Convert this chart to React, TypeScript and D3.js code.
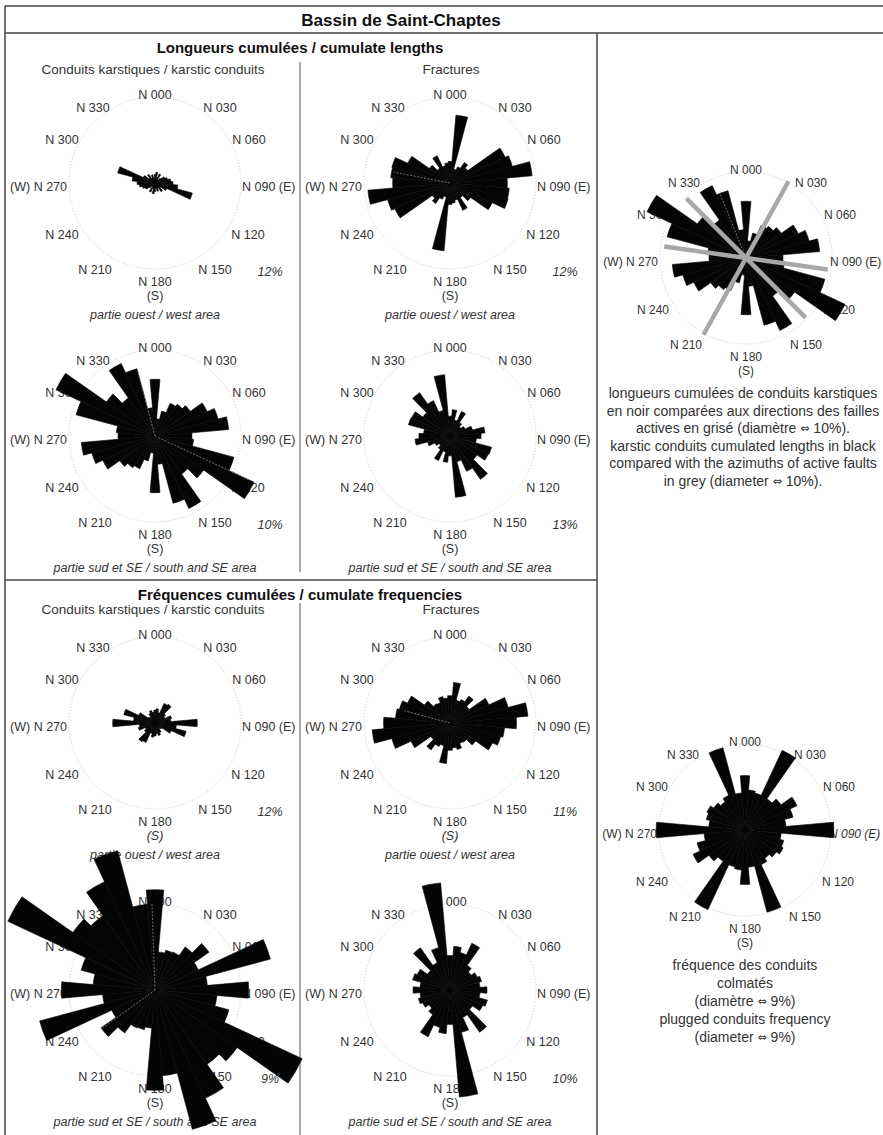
import React from 'react';
import * as d3 from 'd3';

// Bin centres (degrees from north), each bin 10° wide, mirrored at +180°
const binCenters = [0, 10, 20, 30, 40, 50, 60, 70, 80, 90, 100, 110, 120, 130, 140, 150, 160, 170];

// Cumulated lengths (%)
const lenConduitsWest = [1.2, 1.5, 0.8, 1.4, 0.6, 1.0, 1.5, 1.8, 2.2, 2.5, 3.2, 5.4, 1.8, 1.0, 1.5, 0.8, 1.2, 0.7];
const lenFracturesWest = [3.0, 9.5, 2.0, 2.5, 3.5, 3.0, 8.5, 9.0, 11.5, 8.0, 8.3, 8.4, 6.5, 3.5, 2.5, 4.2, 2.5, 2.8];
const lenConduitsSouth = [6.6, 2.0, 3.0, 4.2, 4.5, 5.0, 6.7, 7.6, 8.6, 4.3, 4.5, 9.5, 12.7, 6.9, 5.4, 9.3, 8.1, 3.3];
const lenFracturesSouth = [3.0, 4.0, 2.5, 4.1, 2.5, 2.0, 2.5, 3.5, 5.3, 4.7, 4.0, 6.5, 6.4, 5.0, 8.0, 5.9, 4.0, 9.3];

// Cumulated frequencies (%)
const freqConduitsWest = [1.8, 2.0, 1.5, 3.0, 3.2, 1.8, 1.5, 2.4, 2.2, 5.9, 3.0, 4.5, 2.5, 1.2, 1.0, 1.5, 1.8, 1.5];
const freqFracturesWest = [3.5, 5.2, 3.0, 3.3, 4.2, 3.0, 5.5, 7.7, 10.0, 8.5, 7.0, 6.7, 6.0, 4.0, 3.0, 2.9, 3.5, 3.2];
const freqConduitsSouth = [10.5, 4.0, 4.3, 4.4, 5.5, 6.9, 5.0, 12.5, 5.5, 9.8, 6.5, 8.0, 17.0, 10.5, 9.5, 12.5, 15.1, 9.0];
const freqFracturesSouth = [4.0, 5.1, 4.5, 6.0, 3.5, 3.0, 3.5, 3.8, 3.5, 4.3, 3.5, 4.5, 4.2, 3.2, 6.0, 3.5, 5.1, 12.5];

// Plugged conduits frequency (%)
const freqPluggedConduits = [5.7, 4.2, 4.0, 9.2, 4.0, 4.6, 6.0, 5.2, 4.3, 9.3, 3.8, 4.2, 4.4, 4.0, 3.6, 4.0, 8.9, 3.9];

// Active faults (grey lines)
const activeFaultAzimuths = [29, 98, 135];
const activeFaultValues = [10.2, 9.6, 9.8];

// Faint mean-direction lines inside some roses: [azimuth, length %]
const meanFracturesWest: [number, number][] = [[281, 8]];
const meanConduitsSouth: [number, number][] = [[345, 7.8], [115, 12]];
const meanFreqFracturesWest: [number, number][] = [[285, 6]];
const meanFreqConduitsSouth: [number, number][] = [[358, 9], [234, 7]];
const meanConduitsFaults: [number, number][] = [[338, 8]];

// Scale maxima (% at circle)
const scaleMaxima = [12, 12, 10, 13, 12, 11, 9, 10, 10, 9];
const scaleLabels = ['12%', '12%', '10%', '13%', '12%', '11%', '9%', '10%'];

const directionLabels = ['N 000', 'N 030', 'N 060', 'N 090 (E)', 'N 120', 'N 150', 'N 180', 'N 210', 'N 240', '(W) N 270', 'N 300', 'N 330'];

const FONT = "'Liberation Sans', Arial, Helvetica, sans-serif";
const R = 86;
const LABEL_POS: [number, number, 'middle' | 'start' | 'end'][] = [
  [0, -88, 'middle'], [65, -75, 'middle'], [94, -43, 'middle'], [87, 4, 'start'],
  [93, 52, 'middle'], [60, 87, 'middle'], [0, 99, 'middle'], [-60, 87, 'middle'],
  [-93, 52, 'middle'], [-88, 4, 'end'], [-93, -43, 'middle'], [-62, -75, 'middle'],
];

type RoseProps = {
  cx: number; cy: number; values: number[]; max: number;
  pct?: string; caption?: string; sItalic?: boolean; eItalic?: boolean;
  faults?: boolean; means?: [number, number][]; eDx?: number; labelSize?: number;
};

function Rose({ cx, cy, values, max, pct, caption, sItalic, eItalic, faults, means, eDx, labelSize }: RoseProps) {
  const r = d3.scaleLinear().domain([0, max]).range([0, R]);
  const arc = d3.arc<any>();
  const rad = Math.PI / 180;
  const fs = labelSize ?? 12.5;
  const petals: { d: string; key: string }[] = [];
  binCenters.forEach((c, i) => {
    [0, 180].forEach((off) => {
      const d = arc({
        innerRadius: 0,
        outerRadius: r(values[i]),
        startAngle: (c + off - 5) * rad,
        endAngle: (c + off + 5) * rad,
      }) as string;
      petals.push({ d, key: `${c}-${off}` });
    });
  });
  return (
    <g transform={`translate(${cx},${cy})`} fontFamily={FONT}>
      <circle r={R} fill="none" stroke="#bbb" strokeWidth={0.8} strokeDasharray="1 2" />
      {directionLabels.map((t, i) => (
        <text key={t} x={i === 3 && eDx ? eDx : LABEL_POS[i][0]} y={LABEL_POS[i][1]} textAnchor={LABEL_POS[i][2]}
          dominantBaseline="central" fontSize={fs} fill="#333"
          fontStyle={eItalic && i === 3 ? 'italic' : 'normal'}>{t}</text>
      ))}
      <text x={0} y={113} textAnchor="middle" dominantBaseline="central" fontSize={fs} fill="#333"
        fontStyle={sItalic ? 'italic' : 'normal'}>(S)</text>
      {pct && (
        <text x={115} y={89} textAnchor="middle" dominantBaseline="central" fontSize={12.5}
          fontStyle="italic" fill="#333">{pct}</text>
      )}
      {caption && (
        <text x={0} y={132} textAnchor="middle" dominantBaseline="central" fontSize={12.5}
          fontStyle="italic" fill="#333">{caption}</text>
      )}
      {petals.map((p) => <path key={p.key} d={p.d} fill="#050505" stroke="#050505" strokeWidth={0.6} strokeLinejoin="round" />)}
      {means && means.map(([a, v]) => (
        <line key={a} x1={0} y1={0} x2={Math.sin(a * rad) * r(v)} y2={-Math.cos(a * rad) * r(v)}
          stroke="#8a8a8a" strokeWidth={0.8} strokeDasharray="2 1.5" />
      ))}
      {faults && activeFaultAzimuths.map((a, i) => {
        const L = r(activeFaultValues[i]);
        const sx = Math.sin(a * rad) * L, sy = -Math.cos(a * rad) * L;
        return <line key={a} x1={-sx} y1={-sy} x2={sx} y2={sy} stroke="#a8a8a8" strokeWidth={4.5} />;
      })}
    </g>
  );
}

function Caption({ x, y, text }: { x: number; y: number; text: string }) {
  const parts = text.split('⇔');
  return (
    <text x={x} y={y} textAnchor="middle" dominantBaseline="central" fontSize={14} fill="#333">
      {parts.map((p, i) => (
        <React.Fragment key={i}>
          {i > 0 && <tspan fontFamily="'DejaVu Sans'" fontSize={11}>⇔</tspan>}
          {p}
        </React.Fragment>
      ))}
    </text>
  );
}

export default function App() {
  const col = [155, 450];
  const rows = [183, 436, 723, 990];
  const west = 'partie ouest / west area';
  const south = 'partie sud et SE / south and SE area';
  const lineStyle = { stroke: '#444', strokeWidth: 1.5 };
  const cap1 = ['longueurs cumulées de conduits karstiques', 'en noir comparées aux directions des failles',
    'actives en grisé (diamètre ⇔ 10%).', 'karstic conduits cumulated lengths in black',
    'compared with the azimuths of active faults', 'in grey (diameter ⇔ 10%).'];
  const cap2 = ['fréquence des conduits', 'colmatés', '(diamètre ⇔ 9%)', 'plugged conduits frequency', '(diameter ⇔ 9%)'];
  return (
    <svg width={883} height={1135} style={{ position: 'absolute', left: 0, top: 0, background: '#fff' }}
      fontFamily={FONT}>
      <rect width={883} height={1135} fill="#fff" />
      <line x1={5} y1={6} x2={883} y2={6} {...lineStyle} />
      <line x1={5} y1={33} x2={883} y2={33} {...lineStyle} />
      <line x1={5} y1={6} x2={5} y2={1135} {...lineStyle} />
      <line x1={597} y1={33} x2={597} y2={1135} {...lineStyle} />
      <line x1={5} y1={580} x2={597} y2={580} {...lineStyle} />
      <line x1={300} y1={62} x2={300} y2={572} stroke="#555" strokeWidth={1} />
      <line x1={300} y1={603} x2={300} y2={1135} stroke="#555" strokeWidth={1} />

      <text x={401} y={20} textAnchor="middle" dominantBaseline="central" fontSize={17} fontWeight="bold" fill="#111">Bassin de Saint-Chaptes</text>
      <text x={300} y={47} textAnchor="middle" dominantBaseline="central" fontSize={15} fontWeight="bold" fill="#111">Longueurs cumulées / cumulate lengths</text>
      <text x={153} y={69} textAnchor="middle" dominantBaseline="central" fontSize={13.5} fill="#333">Conduits karstiques / karstic conduits</text>
      <text x={451} y={69} textAnchor="middle" dominantBaseline="central" fontSize={13.5} fill="#333">Fractures</text>
      <text x={300} y={594} textAnchor="middle" dominantBaseline="central" fontSize={15} fontWeight="bold" fill="#111">Fréquences cumulées / cumulate frequencies</text>
      <text x={153} y={609} textAnchor="middle" dominantBaseline="central" fontSize={13.5} fill="#333">Conduits karstiques / karstic conduits</text>
      <text x={451} y={609} textAnchor="middle" dominantBaseline="central" fontSize={13.5} fill="#333">Fractures</text>

      <Rose cx={col[0]} cy={rows[0]} values={lenConduitsWest} max={scaleMaxima[0]} pct={scaleLabels[0]} caption={west} />
      <Rose cx={col[1]} cy={rows[0]} values={lenFracturesWest} max={scaleMaxima[1]} pct={scaleLabels[1]} caption={west} means={meanFracturesWest} />
      <Rose cx={col[0]} cy={rows[1]} values={lenConduitsSouth} max={scaleMaxima[2]} pct={scaleLabels[2]} caption={south} means={meanConduitsSouth} />
      <Rose cx={col[1]} cy={rows[1]} values={lenFracturesSouth} max={scaleMaxima[3]} pct={scaleLabels[3]} caption={south} />
      <Rose cx={col[0]} cy={rows[2]} values={freqConduitsWest} max={scaleMaxima[4]} pct={scaleLabels[4]} caption={west} sItalic />
      <Rose cx={col[1]} cy={rows[2]} values={freqFracturesWest} max={scaleMaxima[5]} pct={scaleLabels[5]} caption={west} sItalic means={meanFreqFracturesWest} />
      <Rose cx={col[0]} cy={rows[3]} values={freqConduitsSouth} max={scaleMaxima[6]} pct={scaleLabels[6]} caption={south} means={meanFreqConduitsSouth} />
      <Rose cx={col[1]} cy={rows[3]} values={freqFracturesSouth} max={scaleMaxima[7]} pct={scaleLabels[7]} caption={south} />

      <Rose cx={746} cy={258} values={lenConduitsSouth} max={scaleMaxima[8]} faults means={meanConduitsFaults} eDx={84} labelSize={12} />
      {cap1.map((t, i) => <Caption key={t} x={743} y={393 + i * 17.6} text={t} />)}

      <Rose cx={745} cy={830} values={freqPluggedConduits} max={scaleMaxima[9]} eItalic eDx={84} labelSize={12} />
      {cap2.map((t, i) => <Caption key={t} x={745} y={965 + i * 18} text={t} />)}
    </svg>
  );
}
